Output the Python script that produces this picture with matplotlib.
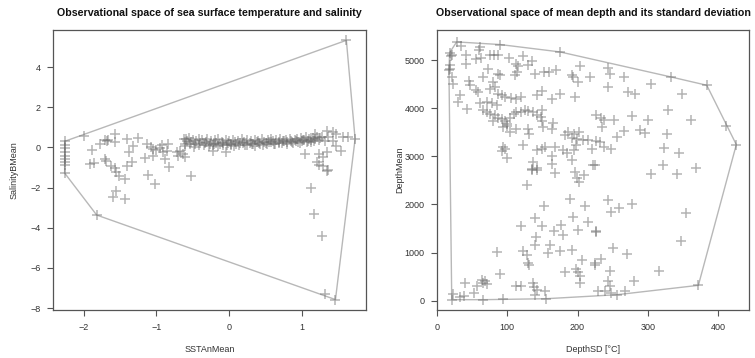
import numpy as np
import matplotlib
matplotlib.use("Agg")
import matplotlib.pyplot as plt

plt.rcParams["font.family"] = ["Liberation Sans", "DejaVu Sans"]

# left panel: SST anomaly mean vs salinity mean
sst_outer = [-2.26, -2.26, -2.26, -2.26, -2.26, -2.26, -2.26, -2.26, -2.26,
             -2.0, -1.89, -1.78, -1.7, -1.68, -1.66, -1.57, -1.57, -1.41, -1.37, -1.32, -1.25,
             -1.13, -1.08, -1.04, -1.0, -0.95, -0.92, -1.16, -1.04,
             -1.91, -1.85, -1.71, -1.69, -1.62, -1.57, -1.55, -1.41, -1.34,
             -1.52, -1.43, -1.12, -1.02, -1.55, -1.59, -1.43, -1.82,
             -0.84, -0.86, -0.91, -0.88, -0.72, -0.68, -0.63, -0.61, -0.70, -0.82, -0.53,
             -0.61, -0.59, -0.04, -0.22,
             1.13, 1.17, 1.28, 1.31, 1.46, 1.35, 1.04, 1.24, 1.29, 1.34, 1.54,
             1.2, 1.24, 1.29, 1.36,
             1.34, 1.43, 1.47, 1.36, 1.31, 1.43, 1.47, 1.57, 1.63, 1.73, 1.18, 1.27, 1.61]
sal_outer = [0.3, 0.1, -0.05, -0.25, -0.45, -0.6, -0.75, -0.9, -1.28,
             0.55, -0.12, 0.17, 0.35, 0.3, 0.38, 0.65, 0.25, 0.42, -0.25, 0.08, 0.45,
             0.15, 0.0, -0.1, -0.15, -0.05, 0.1, -0.55, -0.45,
             -0.83, -0.78, -0.58, -0.67, -0.92, -1.05, -1.25, -0.92, -0.75,
             -1.45, -1.58, -1.4, -1.83, -2.17, -2.45, -2.55, -3.37,
             0.17, -0.17, -0.25, -0.58, -0.25, -0.17, -0.33, -0.5, -0.42, -1.0, -1.45,
             0.17, 0.42, -0.25, -0.17,
             -2.03, -3.33, -4.42, -7.3, -7.58, -1.17, -0.33, -0.33, -0.5, -0.25, -0.17,
             -0.75, -0.88, -0.95, -1.12,
             0.83, 0.75, 0.67, 0.5, 0.33, 0.33, 0.08, 0.5, 0.5, 0.42, 0.67, 0.5, 5.33]

# dense band of stations around zero salinity anomaly
sst_band = [-0.62, -0.58, -0.55, -0.52, -0.5, -0.47, -0.45, -0.42, -0.4, -0.37,
            -0.35, -0.32, -0.3, -0.27, -0.25, -0.22, -0.2, -0.18, -0.15, -0.12,
            -0.1, -0.08, -0.05, -0.02, 0.0, 0.03, 0.05, 0.08, 0.1, 0.12,
            0.15, 0.18, 0.2, 0.22, 0.25, 0.28, 0.3, 0.33, 0.35, 0.38,
            0.4, 0.42, 0.45, 0.48, 0.5, 0.53, 0.55, 0.58, 0.6, 0.62,
            0.65, 0.68, 0.7, 0.72, 0.75, 0.78, 0.8, 0.83, 0.85, 0.88,
            0.9, 0.93, 0.95, 0.98, 1.0, 1.03, 1.05, 1.08, 1.1, 1.13,
            1.15, 1.18, 1.2, 1.23, 1.25,
            -0.6, -0.54, -0.48, -0.41, -0.33, -0.28, -0.21, -0.16, -0.09, -0.03,
            0.02, 0.07, 0.13, 0.19, 0.24, 0.31, 0.36, 0.41, 0.47, 0.52,
            0.57, 0.63, 0.69, 0.74, 0.79, 0.86, 0.92, 0.97, 1.02, 1.07, 1.12, 1.17]
sal_band = [0.42, 0.3, 0.45, 0.25, 0.38, 0.15, 0.3, 0.42, 0.2, 0.35,
            0.1, 0.28, 0.4, 0.18, 0.3, 0.12, 0.35, 0.22, 0.4, 0.15,
            0.28, 0.1, 0.35, 0.2, 0.3, 0.12, 0.38, 0.25, 0.15, 0.32,
            0.2, 0.4, 0.28, 0.12, 0.35, 0.22, 0.3, 0.15, 0.38, 0.25,
            0.32, 0.18, 0.4, 0.28, 0.2, 0.35, 0.25, 0.42, 0.3, 0.18,
            0.35, 0.28, 0.4, 0.22, 0.32, 0.38, 0.25, 0.42, 0.3, 0.2,
            0.35, 0.4, 0.28, 0.45, 0.32, 0.38, 0.5, 0.3, 0.42, 0.35,
            0.48, 0.4, 0.52, 0.38, 0.45,
            0.05, 0.15, 0.0, 0.1, 0.2, 0.05, 0.15, 0.08, 0.22, 0.1,
            0.18, 0.05, 0.12, 0.2, 0.1, 0.15, 0.08, 0.22, 0.12, 0.18,
            0.25, 0.15, 0.2, 0.3, 0.18, 0.25, 0.3, 0.22, 0.35, 0.28, 0.25, 0.32]

# right panel: depth standard deviation vs mean depth
depth_sd = [28, 34, 18, 22, 20, 41, 41, 61, 60, 56, 63, 75, 81, 87, 90, 103, 122,
            113, 116, 135, 130, 19, 18, 17, 22, 23, 45, 47, 66, 73, 90, 87, 111, 114,
            139, 152, 160, 169, 175, 192, 194, 204, 218, 201, 59, 56, 75, 80, 83,
            87, 92, 97, 106, 113, 120, 142, 149, 163, 175, 196, 33, 30, 42, 61, 71,
            78, 85, 66, 71, 75, 82, 79, 92, 97, 100, 94, 87, 104, 109, 113, 120, 125,
            130, 137, 142, 149, 148, 149, 130, 131, 112, 104, 99, 151, 163, 165, 187,
            195, 199, 192, 202, 182, 94, 97, 92, 99, 123, 142, 149, 154, 163, 168,
            179, 185, 195, 198, 192, 208, 215, 220, 137, 163, 135, 142, 222,
            244, 246, 266, 333, 384, 244, 272, 282, 304, 349, 329, 227, 234, 237,
            252, 278, 301, 361, 412, 426, 235, 266, 256, 289, 296, 328, 227, 232,
            237, 248, 323, 344, 225, 322, 369,
            21, 23, 33, 38, 52, 40, 57, 64, 66, 71, 68, 66, 94, 90, 86, 113, 120,
            137, 138, 139, 142, 154, 155, 123, 128, 130, 131, 120, 139, 141, 139,
            149, 153, 158, 161, 166, 176, 180, 175, 189, 193, 192, 201, 210, 215,
            226, 207, 182, 198, 201, 203, 203, 128, 135, 142, 168, 196, 199, 202,
            209, 225,
            305, 342, 243, 247, 259, 278, 355, 226, 347, 251, 271, 225, 234, 246,
            243, 246, 239, 229, 248, 256, 267, 281, 316, 372]
depth_mean = [5378, 5295, 5156, 5115, 5087, 5115, 4928, 5274, 5205, 5032, 5046, 5101,
              5115, 5101, 5323, 5046, 5087, 4928, 4879, 4976, 4893, 4893, 4810, 4789,
              4650, 4512, 4560, 4491, 4650, 4824, 4699, 4720, 4699, 4755, 4720, 4755,
              4755, 4789, 5170, 4699, 4650, 4872, 4650, 4546, 4339, 4373, 4408, 4546,
              4443, 4304, 4269, 4235, 4214, 4200, 4235, 4283, 4353, 4200, 4304, 4235,
              4269, 4131, 3978, 4110, 4131, 4117, 4062, 3957, 3923, 3888, 3854, 3729,
              3770, 3729, 3680, 3611, 3798, 3798, 3888, 3923, 3923, 3957, 3937, 3923,
              3854, 3957, 3819, 3729, 3576, 3472, 3576, 3507, 3625, 3611, 3563, 3701,
              3507, 3472, 3355, 3382, 3507, 3438, 3195, 3147, 3105, 2967, 3230, 3126,
              3161, 3195, 3008, 3195, 3126, 3077, 3126, 3230, 2918, 3334, 3334, 3161,
              2883, 2849, 2745, 2759, 2828,
              4838, 4720, 4650, 4650, 4477, 4443, 4339, 4304, 4512, 4304, 3957, 3853,
              3798, 3750, 3750, 3840, 3750, 3750, 3632, 3244, 3611, 3521, 3403, 3542,
              3493, 3472, 3313, 3299, 3195, 3147, 3175, 3077, 2814, 2828, 2759,
              22, 139, 70, 91, 160, 368, 299, 437, 368, 347, 403, 22, 36, 555, 1006,
              299, 313, 368, 278, 126, 230, 209, 42, 1026, 957, 784, 749, 1546, 1720,
              1318, 1151, 1546, 1962, 992, 1151, 1456, 1581, 1373, 1026, 2121, 1733,
              1061, 1477, 1962, 1636, 1442, 853, 597, 666, 597, 507, 368, 2413, 2724,
              2724, 2655, 2676, 2551, 2468, 2607, 784,
              2634, 2634, 2101, 1844, 1927, 2011, 1823, 1428, 1248, 1096, 971, 749,
              874, 611, 403, 299, 209, 195, 160, 125, 195, 417, 624, 320]

POINT_COLOR = "#6a6a6a"
HULL_COLOR = "#b8b8b8"
TEXT_COLOR = "#333333"


def convex_hull(xs, ys):
    # monotone chain, returns closed polygon
    pts = sorted(set(zip(xs, ys)))

    def cross(o, a, b):
        return (a[0] - o[0]) * (b[1] - o[1]) - (a[1] - o[1]) * (b[0] - o[0])

    lower = []
    for p in pts:
        while len(lower) >= 2 and cross(lower[-2], lower[-1], p) <= 0:
            lower.pop()
        lower.append(p)
    upper = []
    for p in reversed(pts):
        while len(upper) >= 2 and cross(upper[-2], upper[-1], p) <= 0:
            upper.pop()
        upper.append(p)
    hull = lower[:-1] + upper[:-1]
    hull.append(hull[0])
    return np.array(hull)


def style_axes(ax):
    for sp in ax.spines.values():
        sp.set_color("#555555")
        sp.set_linewidth(0.9)
    ax.tick_params(direction="out", length=4, width=0.8, color="#555555",
                   labelsize=6.5, labelcolor=TEXT_COLOR, pad=5)


def panel(ax, xs, ys, title, xlabel, ylabel, ylabelpad):
    hull = convex_hull(xs, ys)
    ax.plot(hull[:, 0], hull[:, 1], color=HULL_COLOR, linewidth=1.0, zorder=1)
    ax.scatter(xs, ys, marker="+", s=50, linewidths=1.1, color=POINT_COLOR,
               alpha=0.5, zorder=2)
    ax.set_title(title, fontsize=7.7, fontweight="bold", color="#111111", pad=10)
    ax.set_xlabel(xlabel, fontsize=6.5, color=TEXT_COLOR, labelpad=10)
    ax.set_ylabel(ylabel, fontsize=6.5, color=TEXT_COLOR, labelpad=ylabelpad)
    style_axes(ax)


fig = plt.figure(figsize=(7.55, 3.58), dpi=100)
ax1 = fig.add_axes([0.0702, 0.134, 0.4146, 0.782])
ax2 = fig.add_axes([0.5788, 0.134, 0.4132, 0.782])

panel(ax1, sst_outer + sst_band, sal_outer + sal_band,
      "Observational space of sea surface temperature and salinity",
      "SSTAnMean", "SalinityBMean", 8)
ax1.set_xlim(-2.42, 1.88)
ax1.set_ylim(-8.1, 5.84)
ax1.set_xticks([-2, -1, 0, 1])
ax1.set_yticks([-8, -6, -4, -2, 0, 2, 4])

panel(ax2, depth_sd, depth_mean,
      "Observational space of mean depth and its standard deviation",
      "DepthSD [°C]", "DepthMean", 0.5)
ax2.set_xlim(0, 444)
ax2.set_ylim(-193, 5624)
ax2.set_xticks([0, 100, 200, 300, 400])
ax2.set_yticks([0, 1000, 2000, 3000, 4000, 5000])

fig.savefig("out.png", dpi=100)
